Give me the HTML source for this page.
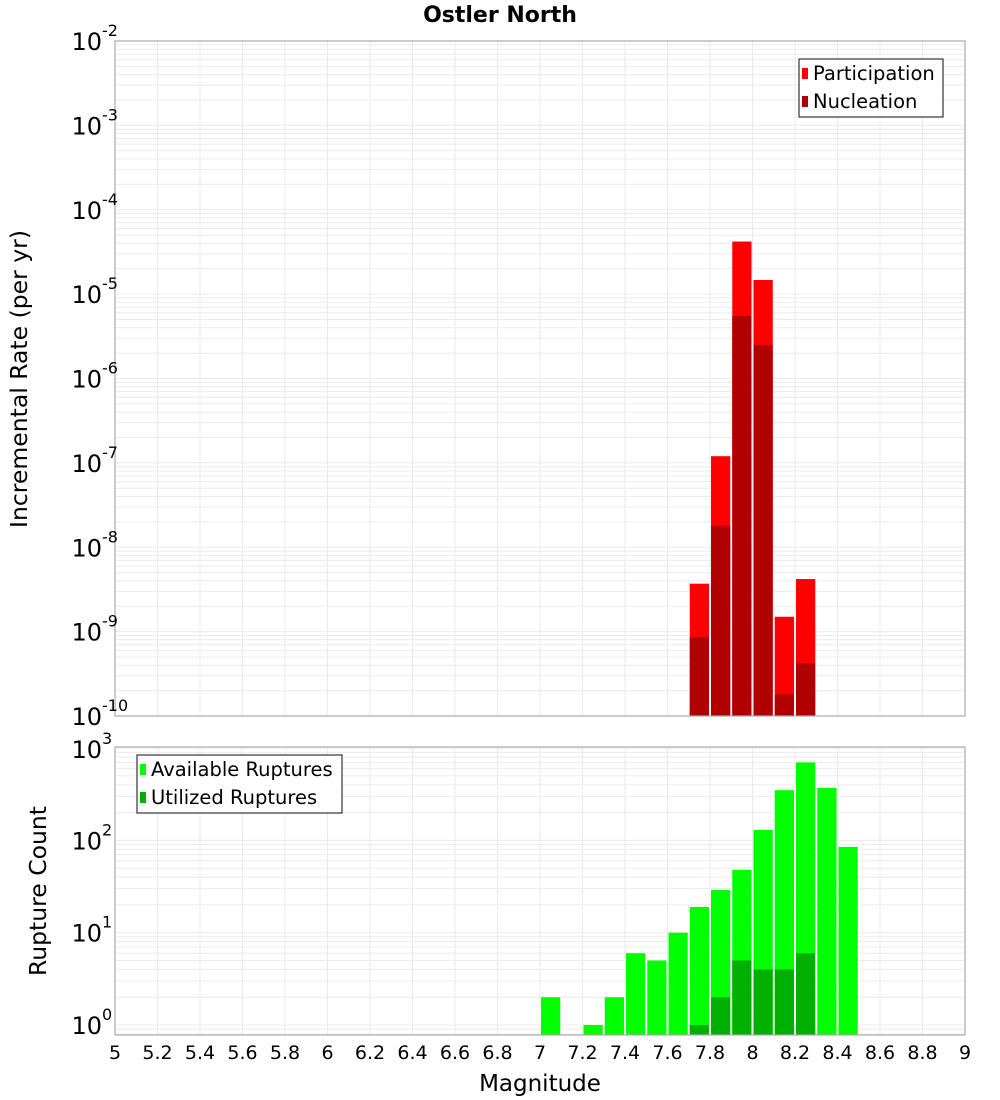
<!DOCTYPE html>
<html><head><meta charset="utf-8"><style>
html,body{margin:0;padding:0;background:#fff;}
svg{display:block;font-family:"DejaVu Sans","Liberation Sans",sans-serif;}
</style></head><body>
<svg id="c" width="1000" height="1100" xmlns="http://www.w3.org/2000/svg">
<text x="500" y="22" text-anchor="middle" font-size="22" font-weight="bold">Ostler North</text>
</svg>
<script>
const binStarts = [7.0,7.2,7.3,7.4,7.5,7.6,7.7,7.8,7.9,8.0,8.1,8.2,8.3,8.4];
const available = [2,1,2,6,5,10,19,29,48,130,350,700,370,85];
const utilized  = [0,0,0,0,0,0,1,2,5,4,4,6,0,0];
const rateBins = [7.7,7.8,7.9,8.0,8.1,8.2];
const participation = [3.7e-9,1.2e-7,4.2e-5,1.47e-5,1.5e-9,4.2e-9];
const nucleation = [8.6e-10,1.8e-8,5.5e-6,2.5e-6,1.8e-10,4.2e-10];
const xTicks = [5,5.2,5.4,5.6,5.8,6,6.2,6.4,6.6,6.8,7,7.2,7.4,7.6,7.8,8,8.2,8.4,8.6,8.8,9];
const topExps = [-10,-9,-8,-7,-6,-5,-4,-3,-2];
const botExps = [0,1,2,3];

const NS="http://www.w3.org/2000/svg", svg=document.getElementById('c');
function mk(tag,attrs,parent){const e=document.createElementNS(NS,tag);for(const k in attrs)e.setAttribute(k,attrs[k]);(parent||svg).appendChild(e);return e;}
const L=115,R=965;
const xs=m=>L+(m-5)/4*(R-L);
const T1=41,B1=716;
const yTop=v=>B1-(Math.log10(v)+10)/8*(B1-T1);
const dec2=92.3, y0b=1025;
const yBot=v=>y0b-Math.log10(v)*dec2;
const T2=747,B2=1035;

function grid(top,bot,yf,e0,e1,name){
  const g=mk('g',{});
  
  
  for(let e=e0;e<=e1;e++)for(let k=1;k<10;k++){const y=yf(k*Math.pow(10,e));if(y<top-0.5||y>bot+0.5)continue;
    mk('line',{x1:L,x2:R,y1:y,y2:y,stroke:'#ebebeb','stroke-width':1},g);}
  xTicks.forEach(t=>{const x=xs(t);mk('line',{x1:x,x2:x,y1:top,y2:bot,stroke:'#ebebeb','stroke-width':1},g);});
}
grid(T1,B1,yTop,-11,-2,'top-grid');
grid(T2,B2,yBot,-1,3,'bottom-grid');

const bw=(xs(5.1)-xs(5))-2;
rateBins.forEach((m,i)=>{
  const x=xs(m)+1;
  let r=mk('rect',{x:x,y:yTop(participation[i]),width:bw,height:B1-yTop(participation[i]),fill:'#ff0000'});
  
  
  let n=mk('rect',{x:x,y:yTop(nucleation[i]),width:bw,height:B1-yTop(nucleation[i]),fill:'#b00000'});
  
  
});
binStarts.forEach((m,i)=>{
  const x=xs(m)+1;
  const ya=Math.max(T2,yBot(available[i]));
  let r=mk('rect',{x:x,y:ya,width:bw,height:B2-ya,fill:'#00ff00'});
  
  
  if(utilized[i]>0){const yu=yBot(utilized[i]);
    let u=mk('rect',{x:x,y:yu,width:bw,height:B2-yu,fill:'#00b000'});
    
    }
});
let f1=mk('rect',{x:L,y:T1,width:R-L,height:B1-T1,fill:'none',stroke:'#aaa','stroke-width':1.2});


let f2=mk('rect',{x:L,y:T2,width:R-L,height:B2-T2,fill:'none',stroke:'#aaa','stroke-width':1.2});


function ylab(y,e,name){
  const t=mk('text',{x:102,y:y+9,'text-anchor':'end','font-size':24});
  t.textContent='10';
  
  
  const s=mk('text',{x:102,y:y-5,'font-size':16});
  s.textContent=String(e);
  
  
}
topExps.forEach(e=>ylab(yTop(Math.pow(10,e)),e,'top-y-tick'));
botExps.forEach(e=>ylab(Math.max(yBot(Math.pow(10,e)),749),e,'bottom-y-tick'));
xTicks.forEach(t=>{
  const tx=mk('text',{x:xs(t),y:1059,'text-anchor':'middle','font-size':19});
  tx.textContent=String(t);
  
  
});
let xt=mk('text',{x:540,y:1091,'text-anchor':'middle','font-size':23});
xt.textContent='Magnitude';


let yt1=mk('text',{x:0,y:0,'text-anchor':'middle','font-size':23.5,transform:'translate(27,379) rotate(-90)'});
yt1.textContent='Incremental Rate (per yr)';


let yt2=mk('text',{x:0,y:0,'text-anchor':'middle','font-size':23.5,transform:'translate(46,891) rotate(-90)'});
yt2.textContent='Rupture Count';


function legend(x,y,w,h,items,name){
  const g=mk('g',{});
  
  
  mk('rect',{x:x,y:y,width:w,height:h,fill:'#fff',stroke:'#333','stroke-width':1.2},g);
  items.forEach((it,i)=>{
    const cy=y+14+i*28;
    mk('rect',{x:x+3,y:cy-5,width:6,height:11,fill:it[1]},g);
    const t=mk('text',{x:x+14,y:cy+7,'font-size':19.5},g);
    t.textContent=it[0];
    
    
  });
}
legend(799,59,144,58,[['Participation','#ff0000'],['Nucleation','#b00000']],'top-legend');
legend(137,755,205,58,[['Available Ruptures','#00ff00'],['Utilized Ruptures','#00b000']],'bottom-legend');
</script>
</body></html>
